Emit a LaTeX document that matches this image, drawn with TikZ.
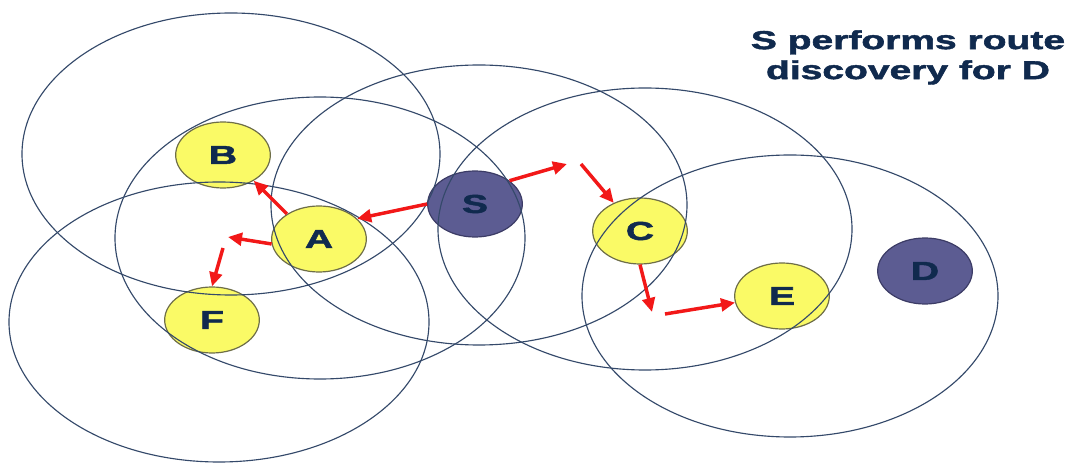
\documentclass[tikz,border=0pt]{standalone}
\usepackage{fontspec}
\usepackage{graphicx}
\setsansfont{Liberation Sans}[BoldFeatures={FakeBold=1.6}]
\usetikzlibrary{arrows.meta,shapes.geometric}
\definecolor{range}{HTML}{34496A}
\definecolor{yel}{HTML}{FAFA66}
\definecolor{yeledge}{HTML}{6E6E48}
\definecolor{dark}{HTML}{5C5C92}
\definecolor{darkedge}{HTML}{3C3C66}
\definecolor{ink}{HTML}{102A4E}
\definecolor{rreq}{HTML}{F21818}
\newcommand{\widetxt}[1]{\scalebox{1.5}[1]{#1}}

\begin{document}
\begin{tikzpicture}[x=0.75pt,y=-0.75pt,font=\sffamily\bfseries\fontsize{19.5}{22.5}\selectfont,
  host/.style={ellipse,line width=0.9pt,minimum width=71pt,minimum height=49.5pt,inner sep=0pt,text=ink},
  peer/.style={host,draw=yeledge,fill=yel},
  term/.style={host,draw=darkedge,fill=dark},
  radio/.style={draw=range,line width=0.85pt},
  hop/.style={-{Triangle[length=10.5pt,width=9.5pt]},line width=2.6pt,rreq}]
  \fill[white] (0,0) rectangle (1072,463);
  \useasboundingbox (0,0) rectangle (1072,463);

  % ===== hosts =====
  \node[peer] (B) at (223,155) {\widetxt{B}};
  \node[peer] (A) at (319,239) {\widetxt{A}};
  \node[peer] (F) at (212,320) {\widetxt{F}};
  \node[term] (S) at (475,204) {\widetxt{S}};
  \node[peer] (C) at (640,231) {\widetxt{C}};
  \node[peer] (E) at (782,296) {\widetxt{E}};
  \node[term] (D) at (925,271) {\widetxt{D}};

  % ===== transmission ranges =====
  \draw[radio] (231,154) ellipse [x radius=209,y radius=141];
  \draw[radio] (219,322) ellipse [x radius=210,y radius=140];
  \draw[radio] (320,238) ellipse [x radius=205,y radius=141];
  \draw[radio] (479,205) ellipse [x radius=208,y radius=140];
  \draw[radio] (645,229) ellipse [x radius=207,y radius=141];
  \draw[radio] (790,296) ellipse [x radius=208,y radius=141];

  % ===== flooded route requests =====
  \coordinate (af1) at (228,237);
  \coordinate (af2) at (223,248);
  \coordinate (sc1) at (567,164);
  \coordinate (sc2) at (581,164);
  \coordinate (ce1) at (652,312);
  \coordinate (ce2) at (665,314);
  \draw[hop] (S.west) -- (A.28);
  \draw[hop] (A.142) -- (B.-40);
  \draw[hop] (A.186) -- (af1);
  \draw[hop] (af2) -- (F.north);
  \draw[hop] (S.34) -- (sc1);
  \draw[hop] (sc2) -- (C.133);
  \draw[hop] (C.south) -- (ce1);
  \draw[hop] (ce2) -- (E.188);

  \node[text=ink,align=center,anchor=north,inner sep=0pt] (title) at (908,30) {\widetxt{S performs route}\\\widetxt{discovery for D}};
\end{tikzpicture}
\end{document}
